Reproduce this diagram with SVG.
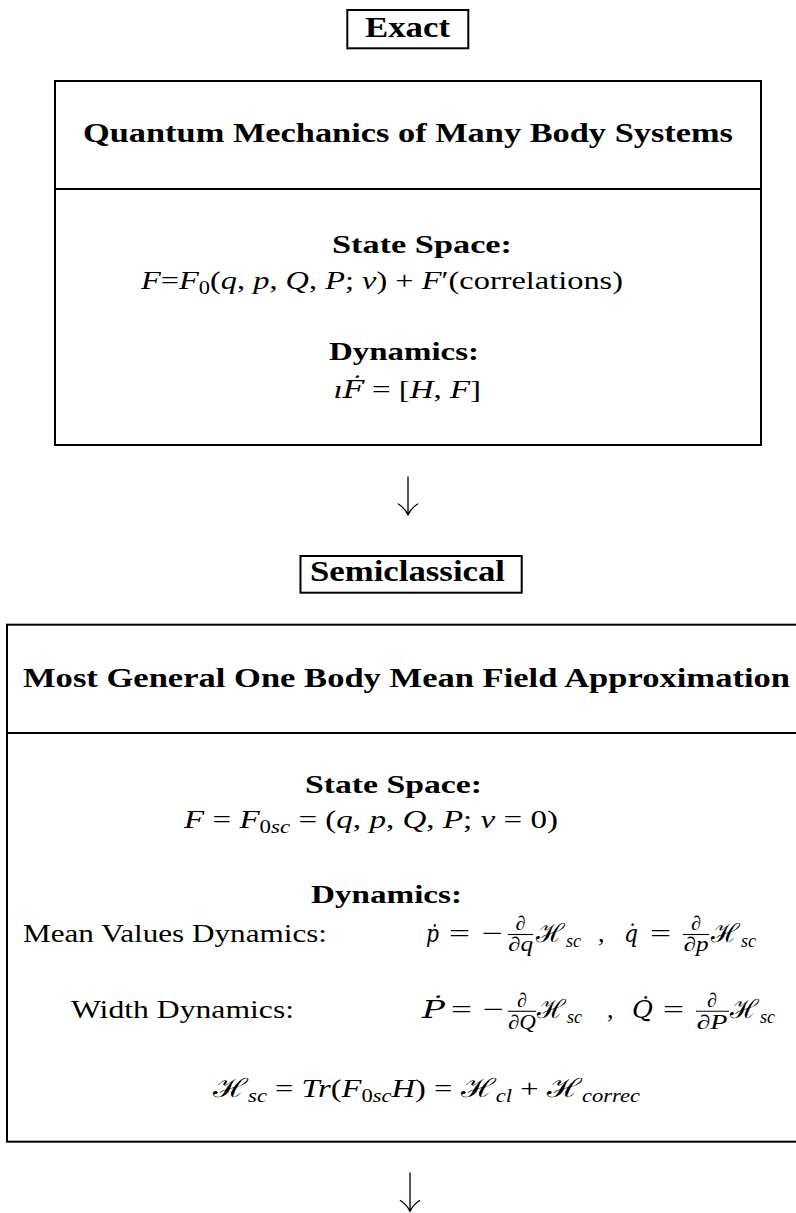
<svg xmlns="http://www.w3.org/2000/svg" width="796" height="1213" viewBox="0 0 796 1213">
<style>
.t{font-family:"Liberation Serif","DejaVu Serif",serif;fill:#000}
.dv{font-family:"DejaVu Serif",serif}
.b{font-weight:bold}
.m{font-size:26px}
.i{font-style:italic}
.sub{font-size:18px}
.fr{font-size:20px;text-anchor:middle}
.box{fill:none;stroke:#000;stroke-width:2}
.bar{stroke:#000;stroke-width:1.1}
.arrow{fill:none;stroke:#000;stroke-width:1.3;stroke-linecap:round}
</style>
<rect width="796" height="1213" fill="#fff"/>

<g id="exact-label">
<rect class="box" x="347.3" y="10" width="121" height="38.3"/>
<text class="t b" x="365" y="36.7" font-size="30" textLength="85" lengthAdjust="spacingAndGlyphs">Exact</text>
</g>

<g id="quantum-box">
<rect class="box" x="55" y="81" width="706" height="364"/>
<line class="box" x1="55" y1="189" x2="761" y2="189"/>
<text class="t b" x="83" y="142" font-size="27" textLength="650" lengthAdjust="spacingAndGlyphs">Quantum Mechanics of Many Body Systems</text>
<text class="t b m" x="332" y="253" textLength="180" lengthAdjust="spacingAndGlyphs">State Space:</text>
<text class="t m" x="141" y="288.7" textLength="482" lengthAdjust="spacingAndGlyphs"><tspan class="i">F</tspan>=<tspan class="i">F</tspan><tspan class="sub" dy="5">0</tspan><tspan dy="-5">(</tspan><tspan class="i">q</tspan>, <tspan class="i">p</tspan>, <tspan class="i">Q</tspan>, <tspan class="i">P</tspan>; <tspan class="i">ν</tspan>)  +  <tspan class="i">F</tspan>′(correlations)</text>
<text class="t b m" x="329" y="359.7" textLength="150" lengthAdjust="spacingAndGlyphs">Dynamics:</text>
<text class="t m" x="333.5" y="397.7" textLength="147.5" lengthAdjust="spacingAndGlyphs"><tspan class="i">ı</tspan><tspan class="i dv" font-size="24">F&#x307;</tspan> = [<tspan class="i">H</tspan>, <tspan class="i">F</tspan>]</text>
</g>

<g id="semiclassical-label">
<rect class="box" x="300.5" y="556" width="221.2" height="36.7"/>
<text class="t b" x="310" y="580.7" font-size="30" textLength="195" lengthAdjust="spacingAndGlyphs">Semiclassical</text>
</g>

<g id="mean-field-box">
<rect class="box" x="7" y="624.7" width="806" height="517"/>
<line class="box" x1="7" y1="733" x2="813" y2="733"/>
<text class="t b" x="23" y="687" font-size="28" textLength="767" lengthAdjust="spacingAndGlyphs">Most General One Body Mean Field Approximation</text>
<text class="t b m" x="305" y="793.3" textLength="177" lengthAdjust="spacingAndGlyphs">State Space:</text>
<text class="t m" x="184" y="828.3" textLength="374" lengthAdjust="spacingAndGlyphs"><tspan class="i">F</tspan> = <tspan class="i">F</tspan><tspan class="sub" dy="5">0</tspan><tspan class="sub i">sc</tspan><tspan dy="-5"> = (</tspan><tspan class="i">q</tspan>, <tspan class="i">p</tspan>, <tspan class="i">Q</tspan>, <tspan class="i">P</tspan>; <tspan class="i">ν</tspan> = 0)</text>
<text class="t b m" x="311" y="903.3" textLength="151" lengthAdjust="spacingAndGlyphs">Dynamics:</text>

<text class="t m" x="23" y="942" textLength="304" lengthAdjust="spacingAndGlyphs">Mean Values Dynamics:</text>
<text class="t dv i" font-size="24" x="426" y="942" textLength="13" lengthAdjust="spacingAndGlyphs">p&#x307;</text>
<text class="t m" x="449" y="942" textLength="21" lengthAdjust="spacingAndGlyphs">=</text>
<text class="t m" x="482" y="942" textLength="21" lengthAdjust="spacingAndGlyphs">−</text>
<text class="t fr" x="520.5" y="930">∂</text>
<line class="bar" x1="508" y1="934.5" x2="533" y2="934.5"/>
<text class="t fr" x="520.5" y="951" textLength="25" lengthAdjust="spacingAndGlyphs">∂<tspan class="i">q</tspan></text>
<text class="t m" x="536" y="942" textLength="29" lengthAdjust="spacingAndGlyphs">ℋ</text>
<text class="t sub i" x="566" y="947">sc</text>
<text class="t m" x="598" y="942">,</text>
<text class="t dv i" font-size="24" x="624" y="942" textLength="14" lengthAdjust="spacingAndGlyphs">q&#x307;</text>
<text class="t m" x="650" y="942" textLength="21" lengthAdjust="spacingAndGlyphs">=</text>
<text class="t fr" x="696" y="930">∂</text>
<line class="bar" x1="683" y1="934.5" x2="709" y2="934.5"/>
<text class="t fr" x="696" y="951" textLength="25" lengthAdjust="spacingAndGlyphs">∂<tspan class="i">p</tspan></text>
<text class="t m" x="711" y="942" textLength="29" lengthAdjust="spacingAndGlyphs">ℋ</text>
<text class="t sub i" x="741" y="947">sc</text>

<text class="t m" x="71" y="1018.3" textLength="223" lengthAdjust="spacingAndGlyphs">Width Dynamics:</text>
<text class="t dv i" font-size="24" x="422" y="1018.3" textLength="23" lengthAdjust="spacingAndGlyphs">P&#x307;</text>
<text class="t m" x="451" y="1018.3" textLength="21" lengthAdjust="spacingAndGlyphs">=</text>
<text class="t m" x="483" y="1018.3" textLength="21" lengthAdjust="spacingAndGlyphs">−</text>
<text class="t fr" x="522" y="1006.5">∂</text>
<line class="bar" x1="508" y1="1011.3" x2="536" y2="1011.3"/>
<text class="t fr" x="522" y="1029" textLength="28" lengthAdjust="spacingAndGlyphs">∂<tspan class="i">Q</tspan></text>
<text class="t m" x="537" y="1018.3" textLength="29" lengthAdjust="spacingAndGlyphs">ℋ</text>
<text class="t sub i" x="567" y="1023.3">sc</text>
<text class="t m" x="607" y="1018.3">,</text>
<text class="t dv i" font-size="24" x="632" y="1018.3" textLength="21" lengthAdjust="spacingAndGlyphs">Q&#x307;</text>
<text class="t m" x="663" y="1018.3" textLength="21" lengthAdjust="spacingAndGlyphs">=</text>
<text class="t fr" x="712" y="1006.5">∂</text>
<line class="bar" x1="696" y1="1011.3" x2="729" y2="1011.3"/>
<text class="t fr" x="712" y="1029" textLength="31" lengthAdjust="spacingAndGlyphs">∂<tspan class="i">P</tspan></text>
<text class="t m" x="730" y="1018.3" textLength="29" lengthAdjust="spacingAndGlyphs">ℋ</text>
<text class="t sub i" x="760" y="1023.3">sc</text>

<text class="t m" x="213" y="1096.7" textLength="427" lengthAdjust="spacingAndGlyphs">ℋ<tspan class="sub i" dy="5">sc</tspan><tspan dy="-5"> = </tspan><tspan class="i">Tr</tspan>(<tspan class="i">F</tspan><tspan class="sub" dy="5">0</tspan><tspan class="sub i">sc</tspan><tspan class="i" dy="-5">H</tspan>) = ℋ<tspan class="sub i" dy="5">cl</tspan><tspan dy="-5"> + ℋ</tspan><tspan class="sub i" dy="5">correc</tspan></text>
</g>

<g id="connectors">
<path class="arrow" d="M408,477 V515 M398.3,504 Q405,508 408,515 M417.7,504 Q411,508 408,515"/>
<path class="arrow" d="M410,1173 V1211.5 M400.3,1200.5 Q407,1204.5 410,1211.5 M419.7,1200.5 Q413,1204.5 410,1211.5"/>
</g>
</svg>
